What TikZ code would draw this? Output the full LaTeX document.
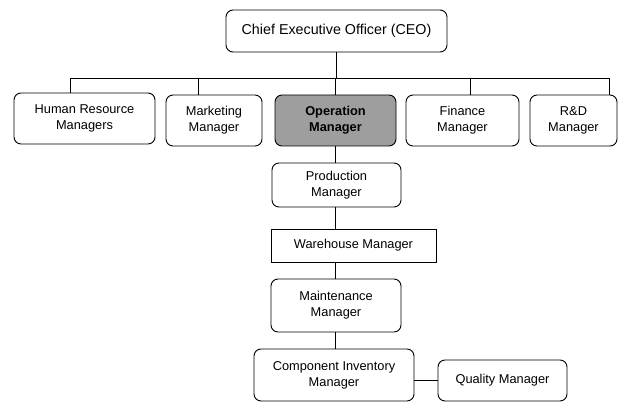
\documentclass[tikz,border=0pt]{standalone}
\usepackage{fontspec}
\setmainfont{Liberation Sans}
\begin{document}
\begin{tikzpicture}[x=1pt,y=-1pt,
  box/.style={draw=black, line width=0.9pt, rounded corners=7pt, inner sep=0pt, align=center,
    font=\fontsize{12.8}{16}\selectfont},
  sqbox/.style={box, rounded corners=0pt},
  opbox/.style={box, fill=black!38, font=\fontsize{12.8}{16}\selectfont\bfseries},
  link/.style={line width=0.9pt}]
\useasboundingbox (0,0) rectangle (637,409);
% top
\node[box, minimum width=221pt, minimum height=42pt, font=\fontsize{14.3}{17}\selectfont] (ceo) at (336.5,31) {Chief Executive Officer (CEO)};
% second row
\node[box, minimum width=141pt, minimum height=51pt] (hr) at (84.5,118.5) {Human Resource\\Managers};
\node[box, minimum width=96pt, minimum height=51pt] (mkt) at (214,120.5) {Marketing\\Manager};
\node[opbox, minimum width=121pt, minimum height=51pt] (op) at (335.5,120.5) {Operation\\Manager};
\node[box, minimum width=113pt, minimum height=51pt] (fin) at (462.5,120.5) {Finance\\Manager};
\node[box, minimum width=87pt, minimum height=51pt] (rd) at (573.5,120.5) {R\&D\\Manager};
% column
\node[box, minimum width=129pt, minimum height=44pt] (prod) at (336.5,185) {Production\\Manager};
\node[sqbox, minimum width=165pt, minimum height=33pt] (wh) at (353.5,245.5) {Warehouse Manager};
\node[box, minimum width=130pt, minimum height=53pt] (mnt) at (336,305.5) {Maintenance\\Manager};
\node[box, minimum width=160pt, minimum height=52pt] (ci) at (334,375) {Component Inventory\\Manager};
\node[box, minimum width=129pt, minimum height=41pt] (qm) at (502.5,380.5) {Quality Manager};
% bus
\coordinate (d1) at (70,78);
\coordinate (d2) at (198,78);
\coordinate (d4) at (470,78);
\coordinate (d5) at (609,78);
\draw[link] (d1) -- (d5);
\draw[link] (ceo.south) -- (ceo.south |- d1);
\draw[link] (d1) -- (d1 |- hr.north);
\draw[link] (d2) -- (d2 |- mkt.north);
\draw[link] (op.north |- d1) -- (op.north);
\draw[link] (d4) -- (d4 |- fin.north);
\draw[link] (d5) -- (d5 |- rd.north);
% column links
\draw[link] (op.south) -- (prod.north -| op.south);
\draw[link] (prod.south -| op.south) -- (wh.north -| op.south);
\draw[link] (wh.south -| op.south) -- (mnt.north -| op.south);
\draw[link] (mnt.south -| op.south) -- (ci.north -| op.south);
\draw[link] (ci.east |- qm.west) -- (qm.west);
\end{tikzpicture}
\end{document}
